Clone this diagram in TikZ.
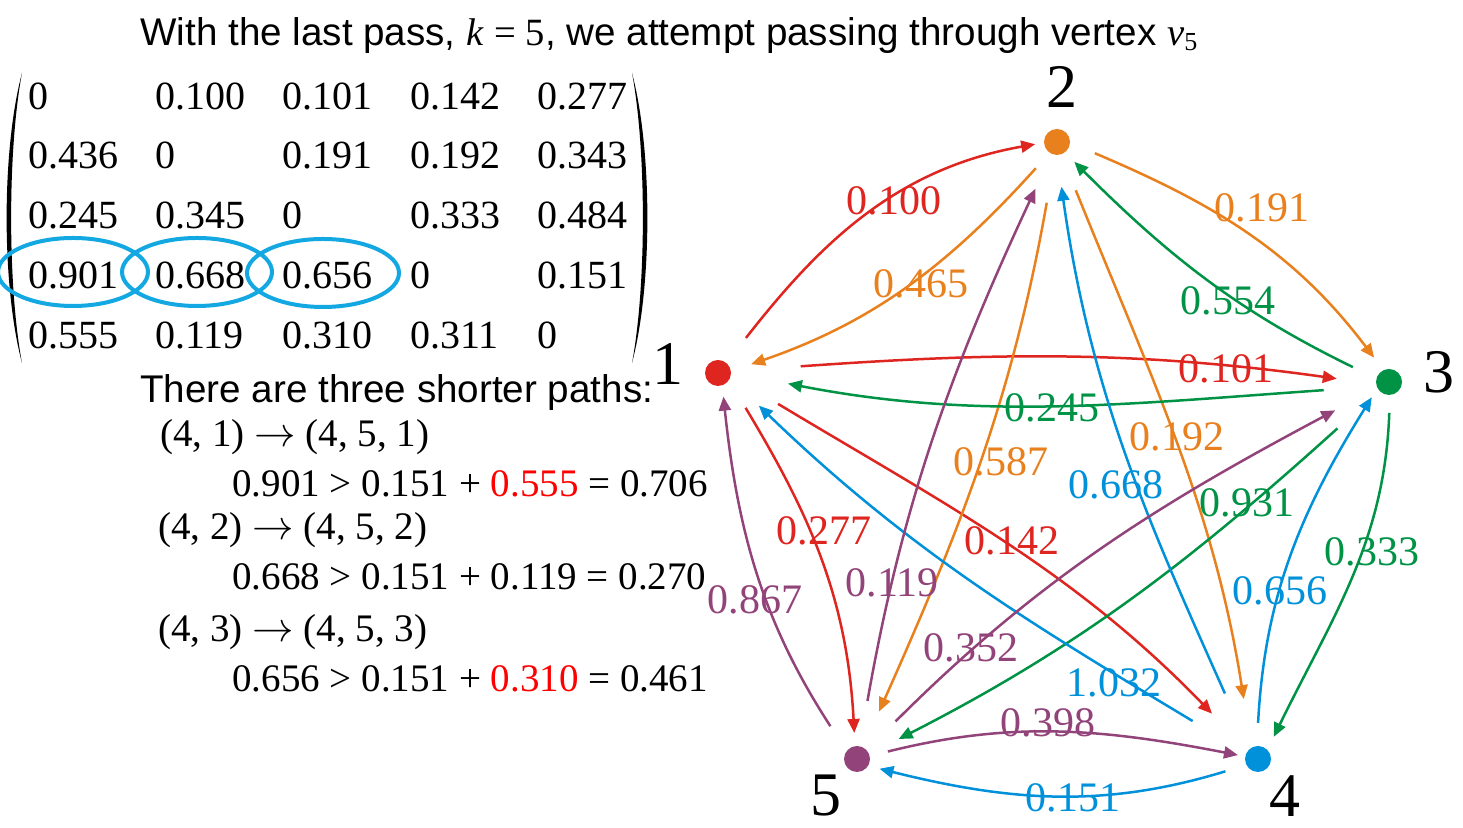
\documentclass[tikz,border=0pt]{standalone}
\usepackage{fontspec}
\setmainfont{Liberation Serif}
\newfontfamily\sansf{Liberation Sans}
\usetikzlibrary{arrows.meta}
\definecolor{cR}{RGB}{222,37,32}
\definecolor{cO}{RGB}{233,128,30}
\definecolor{cG}{RGB}{0,146,69}
\definecolor{cB}{RGB}{0,145,218}
\definecolor{cP}{RGB}{146,68,122}
\definecolor{cE}{RGB}{20,168,226}
\definecolor{tR}{RGB}{255,0,0}
\begin{document}
\begin{tikzpicture}[x=0.5pt,y=0.5pt,
  vtx/.style={circle,fill=#1,minimum size=13pt,inner sep=0pt,outer sep=0pt},
  link/.style={draw=#1,line width=1.25pt,-{Triangle[length=7pt,width=6pt]}},
  lab/.style={text=#1,font=\fontsize{21}{21}\selectfont,inner sep=0pt},
  vlab/.style={font=\fontsize{31}{31}\selectfont,inner sep=0pt,anchor=base},
  mat/.style={font=\fontsize{20}{20}\selectfont,inner sep=0pt,anchor=base west},
  eq/.style={font=\fontsize{19.5}{19.5}\selectfont,inner sep=0pt,anchor=base west},
  sans/.style={font=\sansf\fontsize{19.3}{19.3}\selectfont,inner sep=0pt,anchor=base west},
  ring/.style={draw=cE,line width=2pt}
]
\useasboundingbox (0,0) rectangle (1463,828);

% title and text
\node[sans] (title) at (140,782) {With the last pass, {\rmfamily\itshape k} {\rmfamily = 5}, we attempt passing through vertex {\rmfamily\itshape v}{\rmfamily\raisebox{-2.5pt}{\fontsize{13}{13}\selectfont 5}}};
\node[sans] (three) at (140,425) {There are three shorter paths:};
\node[eq] (p1) at (160,381) {(4, 1) $\rightarrow$ (4, 5, 1)};
\node[eq] (c1) at (232,331) {0.901 > 0.151 + \textcolor{tR}{0.555} = 0.706};
\node[eq] (p2) at (158,288) {(4, 2) $\rightarrow$ (4, 5, 2)};
\node[eq] (c2) at (232,238) {0.668 > 0.151 + 0.119 = 0.270};
\node[eq] (p3) at (158,186) {(4, 3) $\rightarrow$ (4, 5, 3)};
\node[eq] (c3) at (232,136) {0.656 > 0.151 + \textcolor{tR}{0.310} = 0.461};

% matrix
\fill (22,755) .. controls (1.5,678) and (1.5,542) .. (22,465) .. controls (7.5,542) and (7.5,678) .. (22,755) -- cycle;
\fill (632,755) .. controls (652.5,678) and (652.5,542) .. (632,465) .. controls (646.5,542) and (646.5,678) .. (632,755) -- cycle;
\node[mat] (m11) at (28,718) {0};
\node[mat] (m12) at (155,718) {0.100};
\node[mat] (m13) at (282,718) {0.101};
\node[mat] (m14) at (410,718) {0.142};
\node[mat] (m15) at (537,718) {0.277};
\node[mat] (m21) at (28,659) {0.436};
\node[mat] (m22) at (155,659) {0};
\node[mat] (m23) at (282,659) {0.191};
\node[mat] (m24) at (410,659) {0.192};
\node[mat] (m25) at (537,659) {0.343};
\node[mat] (m31) at (28,599) {0.245};
\node[mat] (m32) at (155,599) {0.345};
\node[mat] (m33) at (282,599) {0};
\node[mat] (m34) at (410,599) {0.333};
\node[mat] (m35) at (537,599) {0.484};
\node[mat] (m41) at (28,539) {0.901};
\node[mat] (m42) at (155,539) {0.668};
\node[mat] (m43) at (282,539) {0.656};
\node[mat] (m44) at (410,539) {0};
\node[mat] (m45) at (537,539) {0.151};
\node[mat] (m51) at (28,479) {0.555};
\node[mat] (m52) at (155,479) {0.119};
\node[mat] (m53) at (282,479) {0.310};
\node[mat] (m54) at (410,479) {0.311};
\node[mat] (m55) at (537,479) {0};
\draw[ring] (73,556) ellipse [x radius=75, y radius=34];
\draw[ring] (197,556) ellipse [x radius=75, y radius=34];
\draw[ring] (323,555) ellipse [x radius=76, y radius=34];

% vertices
\node[vtx=cR] (v1) at (718,455) {};
\node[vtx=cO] (v2) at (1057,686) {};
\node[vtx=cG] (v3) at (1389,446) {};
\node[vtx=cB] (v4) at (1258,69) {};
\node[vtx=cP] (v5) at (857,69) {};
\node[vlab] (n1) at (668,443) {1};
\node[vlab] (n2) at (1062,720) {2};
\node[vlab] (n3) at (1439,435) {3};
\node[vlab] (n4) at (1285,11) {4};
\node[vlab] (n5) at (826,12) {5};

% edges
\draw[link=cR, shorten <=15.9pt, shorten >=4.5pt] (v1.50) to[out=52,in=190] (v2.183);
\draw[link=cR, shorten <=35pt, shorten >=19.9pt] (v1.8) to[out=4,in=172] (v3.190);
\draw[link=cR, shorten <=27.6pt, shorten >=25.8pt] (v1.-11) to[out=-31,in=134] (v4.141);
\draw[link=cR, shorten <=16.2pt, shorten >=6.6pt] (v1.-33) to[out=-59,in=93] (v5.99);
\draw[link=cO, shorten <=10.4pt, shorten >=10.7pt] (v2.236) to[out=228,in=19] (v1.8);
\draw[link=cO, shorten <=13.5pt, shorten >=7.8pt] (v2.-3) to[out=-23,in=127] (v3.115);
\draw[link=cO, shorten <=19.4pt, shorten >=24.6pt] (v2.-71) to[out=-68,in=99] (v4.120);
\draw[link=cO, shorten <=24.3pt, shorten >=19.7pt] (v2.262) to[out=260,in=66] (v5.62);
\draw[link=cG, shorten <=26.6pt, shorten >=29pt] (v3.200) to[out=184,in=-11] (v1.2);
\draw[link=cG, shorten <=13.1pt, shorten >=6.7pt] (v3.165) to[out=154,in=-45] (v2.-53);
\draw[link=cG, shorten <=9pt, shorten >=7.3pt] (v3.-86) to[out=-92,in=64] (v4.44);
\draw[link=cG, shorten <=28.2pt, shorten >=16.6pt] (v3.222) to[out=222,in=27] (v5.22);
\draw[link=cB, shorten <=31.3pt, shorten >=20pt] (v4.154) to[out=149,in=-44] (v1.-22);
\draw[link=cB, shorten <=30.4pt, shorten >=16pt] (v4.130) to[out=114,in=-82] (v2.-90);
\draw[link=cB, shorten <=11.6pt, shorten >=5.4pt] (v4.95) to[out=87,in=238] (v3.208);
\draw[link=cB, shorten <=11pt, shorten >=5.9pt] (v4.207) to[out=197,in=-14] (v5.-32);
\draw[link=cP, shorten <=14.9pt, shorten >=5.7pt] (v5.143) to[out=123,in=-84] (v1.-71);
\draw[link=cP, shorten <=23pt, shorten >=19.2pt] (v5.79) to[out=80,in=245] (v2.246);
\draw[link=cP, shorten <=20.4pt, shorten >=23.9pt] (v5.42) to[out=45,in=208] (v3.207);
\draw[link=cP, shorten <=9.4pt, shorten >=3.7pt] (v5.13) to[out=14,in=169] (v4.169);

% edge labels
\node[lab=cR] (l12) at (894,627) {0.100};
\node[lab=cO] (l21) at (921,544) {0.465};
\node[lab=cO] (l23) at (1262,620) {0.191};
\node[lab=cG] (l32) at (1228,527) {0.554};
\node[lab=cR] (l13) at (1226,459) {0.101};
\node[lab=cG] (l31) at (1052,420) {0.245};
\node[lab=cO] (l24) at (1177,391) {0.192};
\node[lab=cO] (l25) at (1001,366) {0.587};
\node[lab=cB] (l42) at (1116,343) {0.668};
\node[lab=cG] (l35) at (1247,325) {0.931};
\node[lab=cR] (l15) at (824,297) {0.277};
\node[lab=cR] (l14) at (1012,287) {0.142};
\node[lab=cG] (l34) at (1372,276) {0.333};
\node[lab=cP] (l52) at (892,245) {0.119};
\node[lab=cP] (l51) at (755,228) {0.867};
\node[lab=cB] (l43) at (1280,237) {0.656};
\node[lab=cP] (l53) at (971,180) {0.352};
\node[lab=cB] (l41) at (1114,145) {1.032};
\node[lab=cP] (l54) at (1048,105) {0.398};
\node[lab=cB] (l45) at (1073,30) {0.151};
\end{tikzpicture}
\end{document}
